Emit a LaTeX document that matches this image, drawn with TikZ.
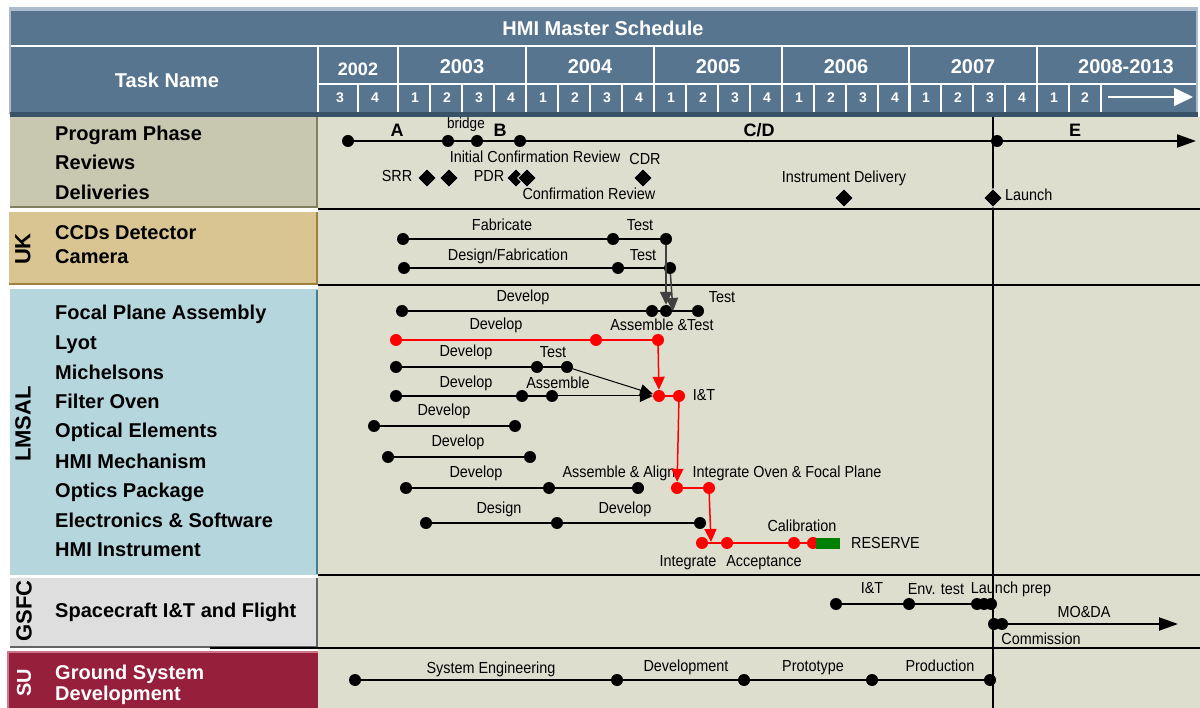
\documentclass[tikz,border=0pt]{standalone}
\usepackage{fontspec}
\setmainfont{Liberation Sans}
\newfontfamily\narrowfont[FakeStretch=0.9]{Liberation Sans}
\usetikzlibrary{arrows.meta,positioning,shapes.geometric}

\definecolor{hdrblue}{RGB}{88,117,144}
\definecolor{hdrlite}{RGB}{172,188,204}
\definecolor{hdrdark}{RGB}{58,82,104}
\definecolor{chartbg}{RGB}{222,222,207}
\definecolor{prgfill}{RGB}{200,199,175}
\definecolor{prgedge}{RGB}{128,128,96}
\definecolor{ukfill}{RGB}{217,197,146}
\definecolor{ukedge}{RGB}{158,128,60}
\definecolor{lmfill}{RGB}{182,214,222}
\definecolor{lmedge}{RGB}{70,125,146}
\definecolor{gsfill}{RGB}{222,222,222}
\definecolor{gsedge}{RGB}{100,100,100}
\definecolor{sufill}{RGB}{150,31,60}
\definecolor{sulite}{RGB}{205,120,138}
\definecolor{rsvgreen}{RGB}{0,128,0}

\begin{document}
\begin{tikzpicture}[x=1pt,y=-1pt,
  dot/.style={circle,fill=black,inner sep=0pt,minimum size=12pt},
  rdot/.style={dot,fill=red},
  ms/.style={diamond,aspect=1,fill=black,draw=white,line width=0.8pt,inner sep=0pt,minimum size=19pt},
  lbl/.style={font=\narrowfont\fontsize{16}{18}\selectfont,inner sep=0pt,text height=11pt,text depth=3pt},
  phase/.style={font=\bfseries\fontsize{18}{20}\selectfont,inner sep=0pt},
  task/.style={font=\bfseries\fontsize{20}{22}\selectfont,anchor=base west,inner sep=0pt},
  org/.style={font=\bfseries\fontsize{22}{24}\selectfont,rotate=90,inner sep=0pt},
  hd/.style={font=\bfseries\fontsize{20}{22}\selectfont,text=white,inner sep=0pt},
  qn/.style={font=\bfseries\fontsize{14}{16}\selectfont,text=white,inner sep=0pt},
  grid/.style={white,line width=1.5pt},
  bar/.style={line width=2pt},
  rbar/.style={line width=2pt,red},
  sep/.style={line width=2.5pt},
  bigtip/.style={-{Triangle[length=19pt,width=13pt]}},
  tip/.style={-{Triangle[length=13pt,width=12pt]}}]

\useasboundingbox (0,0) rectangle (1200,708);

% header
\fill[hdrlite] (9,7) rectangle (1198,114);
\fill[hdrblue] (11,11) rectangle (1196,113);
\fill[hdrdark] (10,112) rectangle (1198,117);
\draw[grid] (11,46) -- (1196,46);
\draw[grid] (318,84) -- (1196,84);
\draw[grid] (318,46) -- (318,112);
\draw[grid] (358,84) -- (358,112);
\node[hd] (title) at (603,28) {HMI Master Schedule};
\node[hd] (taskname) at (167,80) {Task Name};
\node[hd,font=\bfseries\fontsize{18}{20}\selectfont] (y2002) at (358,69) {2002};
\node[qn] (q2002-3) at (340,98) {3};
\node[qn] (q2002-4) at (375,98) {4};
\foreach \yr/\xa in {2003/398,2004/526,2005/654,2006/782,2007/909}{
  \draw[grid] (\xa,46) -- (\xa,112);
  \node[hd] (y\yr) at (\xa+64,67) {\yr};
  \foreach \q in {1,...,4}{
    \node[qn] (q\yr-\q) at (\xa+32*\q-15,98) {\q};
    \draw[grid] (\xa+32*\q,84) -- (\xa+32*\q,112);
  }
}
\draw[grid] (1037,46) -- (1037,112);
\draw[grid] (1069,84) -- (1069,112);
\draw[grid] (1101,84) -- (1101,112);
\node[hd] (y2008) at (1126,67) {2008-2013};
\node[qn] (q2008-1) at (1054,98) {1};
\node[qn] (q2008-2) at (1085,98) {2};
\coordinate (qa) at (1108,97);
\coordinate (qb) at (1193,97);
\draw[white,line width=1.5pt,-{Triangle[length=19pt,width=18pt]}] (qa) -- (qb);

% panels
\fill[chartbg] (318,117) rectangle (1200,708);
\fill[prgfill] (10,117) rectangle (318,208);
\draw[prgedge,line width=2.5pt] (10,207) -- (317,207) -- (317,117);
\fill[ukfill] (9,212) rectangle (318,285);
\draw[ukedge,line width=2.5pt] (9,284) -- (317,284) -- (317,212);
\fill[lmfill] (10,289) rectangle (318,575);
\draw[lmedge,line width=2.5pt] (317,290) -- (317,574);
\fill[gsfill] (10,578) rectangle (318,648);
\draw[gsedge,line width=2.5pt] (10,647) -- (317,647) -- (317,578);
\fill[sufill] (8,652) rectangle (318,708);
\draw[sulite,line width=2pt] (8,708) -- (8,652) -- (318,652);
\draw[sep] (318,209) -- (1200,209);
\draw[sep] (318,285) -- (1200,285);
\draw[sep] (318,575) -- (1200,575);
\draw[sep] (210,648) -- (1200,648);
\draw[line width=2pt] (993,117) -- (993,708);

\node[org] (uk) at (23,249) {UK};
\node[org] (lmsal) at (23,424) {LMSAL};
\node[org] (gsfc) at (24,611) {GSFC};
\node[org,text=white,font=\bfseries\fontsize{20}{22}\selectfont] (su) at (24,683) {SU};

\node[task] (tpp) at (55,141) {Program Phase};
\node[task] (trev) at (55,170) {Reviews};
\node[task] (tdel) at (55,200) {Deliveries};
\node[task] (tccd) at (55,240) {CCDs Detector};
\node[task] (tcam) at (55,264) {Camera};
\node[task] (tfpa) at (55,320) {Focal Plane Assembly};
\node[task] (tlyot) at (55,350) {Lyot};
\node[task] (tmich) at (55,380) {Michelsons};
\node[task] (tfo) at (55,409) {Filter Oven};
\node[task] (toe) at (55,438) {Optical Elements};
\node[task] (thmim) at (55,468) {HMI Mechanism};
\node[task] (top) at (55,497) {Optics Package};
\node[task] (tel) at (55,527) {Electronics \& Software};
\node[task] (thmi) at (55,556) {HMI Instrument};
\node[task] (tsc) at (55,617) {Spacecraft I\&T and Flight};
\node[task,text=white] (tgs1) at (55,679) {Ground System};
\node[task,text=white] (tgs2) at (55,700) {Development};

% program phase, reviews, deliveries
\node[dot] (pA) at (348,141) {};
\node[dot] (pbr) at (448,141) {};
\node[dot] (pB) at (477,141) {};
\node[dot] (pCD) at (520,141) {};
\node[dot] (pE) at (997,141) {};
\coordinate (pend) at (1196,141);
\draw[bar] (pA) -- (pbr) -- (pB) -- (pCD) -- (pE);
\draw[bar,bigtip] (pE) -- (pend);
\node[phase] (lA) at (397,130) {A};
\node[lbl,font=\narrowfont\fontsize{15}{17}\selectfont] (lbr) at (466,125) {bridge};
\node[phase] (lB) at (500,130) {B};
\node[phase] (lCD) at (759,130) {C/D};
\node[phase] (lE) at (1075,130) {E};

\node[ms] (srr1) at (427,178) {};
\node[ms] (srr2) at (449,178) {};
\node[ms] (pdr1) at (516,178) {};
\node[ms] (pdr2) at (527,178) {};
\node[ms] (cdr) at (643,178) {};
\node[ms] (idel) at (844,198) {};
\node[ms] (lnch) at (993,198) {};
\node[lbl] (lsrr) at (397,178) {SRR};
\node[lbl] (lpdr) at (489,178) {PDR};
\node[lbl] (licr) at (535,159) {Initial Confirmation Review};
\node[lbl] (lcdr) at (645,161) {CDR};
\node[lbl] (lcr) at (589,196) {Confirmation Review};
\node[lbl] (lidel) at (844,179) {Instrument Delivery};
\node[lbl,anchor=west] (llnch) at (1005,197) {Launch};

% UK
\node[dot] (fa1) at (403,239) {};
\node[dot] (fa2) at (613,239) {};
\node[dot] (fa3) at (666,239) {};
\draw[bar] (fa1) -- (fa2) -- (fa3);
\node[lbl] (lfab) at (502,227) {Fabricate};
\node[lbl] (lfat) at (640,227) {Test};
\node[dot] (df1) at (404,268) {};
\node[dot] (df2) at (618,268) {};
\node[dot] (df3) at (670,268) {};
\draw[bar] (df1) -- (df2) -- (df3);
\node[lbl] (ldf) at (508,257) {Design/Fabrication};
\node[lbl] (ldft) at (643,257) {Test};

% LMSAL
\node[dot] (fp1) at (402,311) {};
\node[dot] (fp2) at (652,311) {};
\node[dot] (fp3) at (666,311) {};
\node[dot] (fp4) at (698,311) {};
\draw[bar] (fp1) -- (fp2) -- (fp3) -- (fp4);
\node[lbl] (lfp) at (523,298) {Develop};
\node[lbl] (lfpt) at (722,299) {Test};
\coordinate (fpin) at (673,311);
\draw[black!75,line width=1.5pt,tip] (fa3) -- (fp3);
\draw[black!75,line width=1.5pt,tip] (df3) -- (fpin);

\node[rdot] (ly1) at (396,340) {};
\node[rdot] (ly2) at (596,340) {};
\node[rdot] (ly3) at (658,340) {};
\draw[rbar] (ly1) -- (ly2) -- (ly3);
\node[lbl] (lly) at (496,326) {Develop};
\node[lbl] (llyt) at (662,327) {Assemble \&Test};

\node[dot] (mi1) at (396,367) {};
\node[dot] (mi2) at (537,367) {};
\node[dot] (mi3) at (567,367) {};
\draw[bar] (mi1) -- (mi2) -- (mi3);
\node[lbl] (lmi) at (466,353) {Develop};
\node[lbl] (lmit) at (553,354) {Test};

\node[dot] (fo1) at (396,396) {};
\node[dot] (fo2) at (522,396) {};
\node[dot] (fo3) at (552,396) {};
\draw[bar] (fo1) -- (fo2) -- (fo3);
\node[lbl] (lfo) at (466,384) {Develop};
\node[lbl] (lfoa) at (558,385) {Assemble};

\node[rdot] (it1) at (659,396) {};
\node[rdot] (it2) at (679,396) {};
\draw[rbar] (it1) -- (it2);
\node[lbl] (lit) at (704,397) {I\&T};
\draw[line width=1pt,tip] (mi3) -- (it1);
\draw[line width=1pt,tip] (fo3) -- (it1);
\draw[red,line width=1.5pt,tip] (ly3) -- (it1);

\node[dot] (oe1) at (374,426) {};
\node[dot] (oe2) at (515,426) {};
\draw[bar] (oe1) -- (oe2);
\node[lbl] (loe) at (444,412) {Develop};

\node[dot] (hm1) at (388,457) {};
\node[dot] (hm2) at (530,457) {};
\draw[bar] (hm1) -- (hm2);
\node[lbl] (lhm) at (458,443) {Develop};

\node[dot] (op1) at (406,488) {};
\node[dot] (op2) at (549,488) {};
\node[dot] (op3) at (638,488) {};
\draw[bar] (op1) -- (op2) -- (op3);
\node[rdot] (op4) at (677,488) {};
\node[rdot] (op5) at (709,488) {};
\draw[rbar] (op4) -- (op5);
\node[lbl] (lop) at (476,474) {Develop};
\node[lbl] (lopa) at (619,474) {Assemble \& Align};
\node[lbl] (lopi) at (787,474) {Integrate Oven \& Focal Plane};
\draw[red,line width=1.5pt,tip] (it2) -- (op4);

\node[dot] (el1) at (426,523) {};
\node[dot] (el2) at (557,523) {};
\node[dot] (el3) at (700,523) {};
\draw[bar] (el1) -- (el2) -- (el3);
\node[lbl] (lel) at (499,510) {Design};
\node[lbl] (leld) at (625,510) {Develop};

\node[rdot] (in1) at (702,543) {};
\node[rdot] (in2) at (727,543) {};
\node[rdot] (in3) at (794,543) {};
\node[rdot] (in4) at (813,543) {};
\draw[rbar] (in1) -- (in2) -- (in3) -- (in4);
\node[fill=rsvgreen,inner sep=0pt,minimum width=24pt,minimum height=11pt] (rsv) at (828,543) {};
\coordinate (inin) at (711,542);
\draw[red,line width=1.5pt,tip] (op5) -- (inin);
\node[lbl] (lcal) at (802,527) {Calibration};
\node[lbl,anchor=west] (lrsv) at (851,544) {RESERVE};
\node[lbl] (lint) at (688,562) {Integrate};
\node[lbl] (lacc) at (764,562) {Acceptance};

% GSFC
\node[dot] (sc1) at (836,604) {};
\node[dot] (sc2) at (909,604) {};
\node[dot] (sc3) at (977,604) {};
\node[dot] (sc4) at (984,604) {};
\node[dot] (sc5) at (991,604) {};
\draw[bar] (sc1) -- (sc2) -- (sc3) -- (sc4) -- (sc5);
\node[lbl] (lsc1) at (872,589) {I\&T};
\node[lbl] (lsc2) at (936,590) {Env. test};
\node[lbl] (lsc3) at (1011,589) {Launch prep};
\node[dot] (mo1) at (994,624) {};
\node[dot] (mo2) at (1002,624) {};
\coordinate (moend) at (1178,624);
\draw[bar] (mo1) -- (mo2);
\draw[bar,bigtip] (mo2) -- (moend);
\node[lbl] (lmo) at (1084,613) {MO\&DA};
\node[lbl] (lcom) at (1041,640) {Commission};

% SU
\node[dot] (gs1) at (355,680) {};
\node[dot] (gs2) at (617,680) {};
\node[dot] (gs3) at (744,680) {};
\node[dot] (gs4) at (872,680) {};
\node[dot] (gs5) at (990,680) {};
\draw[bar] (gs1) -- (gs2) -- (gs3) -- (gs4) -- (gs5);
\node[lbl] (lgs1) at (491,669) {System Engineering};
\node[lbl] (lgs2) at (686,667) {Development};
\node[lbl] (lgs3) at (813,667) {Prototype};
\node[lbl] (lgs4) at (940,667) {Production};
\end{tikzpicture}
\end{document}
